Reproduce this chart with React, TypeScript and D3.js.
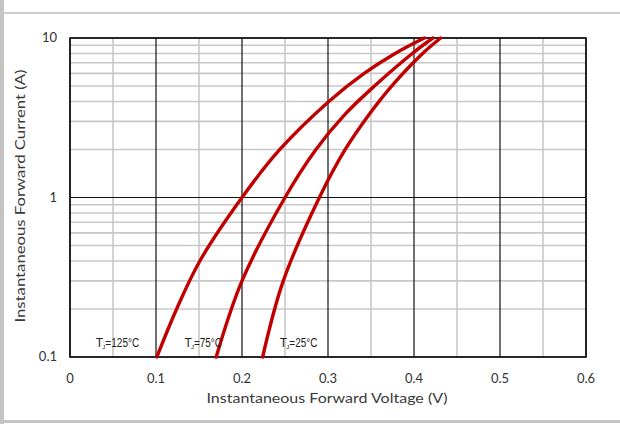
import React from "react";
import * as d3 from "d3";

// forward current (A) and the voltage (V)
const current125 = [0.1, 0.2, 0.4, 1, 2, 4, 6, 8, 10];
const voltage125 = [0.101, 0.124, 0.151, 0.2, 0.244, 0.301, 0.342, 0.378, 0.412];
const current75 = [0.1, 0.3, 1, 2, 3.33, 5, 8, 10];
const voltage75 = [0.17, 0.2, 0.25, 0.286, 0.32, 0.354, 0.398, 0.422];
const current25 = [0.1, 0.3, 1, 2, 3.33, 5, 8, 10];
const voltage25 = [0.224, 0.248, 0.29, 0.32, 0.348, 0.374, 0.41, 0.431];

const xTicks = [0, 0.1, 0.2, 0.3, 0.4, 0.5, 0.6];
const xMinor = [0.05, 0.15, 0.25, 0.35, 0.45, 0.55];
const yTicks = [0.1, 1, 10];
const yTickLabels = ["0.1", "1", "10"];
const yMinor = [2, 3, 4, 5, 6, 7, 8, 9].flatMap((m) => [m * 0.1, m]);

const curveLabels = [
  { temp: "125", v: 0.03 },
  { temp: "75", v: 0.133 },
  { temp: "25", v: 0.244 },
];

const W = 620;
const H = 424;
const font = "Lato, 'DejaVu Sans', sans-serif";
const narrow = "'Liberation Sans Narrow', 'Liberation Sans', Arial, sans-serif";

const App: React.FC = () => {
  const x = d3.scaleLinear().domain([0, 0.6]).range([70, 586]);
  const y = d3.scaleLog().domain([0.1, 10]).range([357, 38]);

  const line = d3
    .line<[number, number]>()
    .x((d) => x(d[0]))
    .y((d) => y(d[1]))
    .curve(d3.curveCatmullRom.alpha(0.5));

  const series = [
    voltage125.map((v, i) => [v, current125[i]] as [number, number]),
    voltage75.map((v, i) => [v, current75[i]] as [number, number]),
    voltage25.map((v, i) => [v, current25[i]] as [number, number]),
  ];

  return (
    <svg
      width={W}
      height={H}
      style={{ position: "absolute", left: 0, top: 0, background: "#fff" }}
    >
      {/* page frame */}
      <rect x={0} y={0} width={4} height={H} fill="#c4c4c4" />
      <rect x={4} y={12} width={W - 4} height={2} fill="#cfcfcf" />
      <rect x={0} y={420} width={W} height={3} fill="#c4c4c4" />

      {/* minor grid */}
      <g stroke="#c8c8c8" strokeWidth={1.6}>
        {xMinor.map((t) => (
          <line key={"xm" + t} x1={x(t)} x2={x(t)} y1={y(10)} y2={y(0.1)} />
        ))}
        {yMinor.map((t) => (
          <line key={"ym" + t} x1={x(0)} x2={x(0.6)} y1={y(t)} y2={y(t)} />
        ))}
      </g>

      {/* major grid */}
      <g stroke="#111" strokeWidth={1.2}>
        {xTicks.map((t) => (
          <line key={"xg" + t} x1={x(t)} x2={x(t)} y1={y(10)} y2={y(0.1)} />
        ))}
        {yTicks.map((t) => (
          <line key={"yg" + t} x1={x(0)} x2={x(0.6)} y1={y(t)} y2={y(t)} />
        ))}
      </g>
      <rect
        x={x(0)}
        y={y(10)}
        width={x(0.6) - x(0)}
        height={y(0.1) - y(10)}
        fill="none"
        stroke="#111"
        strokeWidth={1.6}
      />

      {/* curves */}
      <g fill="none" stroke="#c00000" strokeWidth={3.4} strokeLinecap="round">
        {series.map((s, i) => (
          <path key={i} d={line(s) ?? ""} />
        ))}
      </g>

      {/* curve labels: T, subscript J, then the temperature */}
      {curveLabels.map((l) => {
        const x0 = x(l.v);
        return (
          <g key={l.temp} fontFamily={narrow} fill="#222">
            <text x={x0} y={347} fontSize={12}>
              T
            </text>
            <text x={x0 + 6.5} y={349} fontSize={6}>
              J
            </text>
            <text
              x={x0 + 9.5}
              y={347}
              fontSize={12}
              textLength={l.temp.length === 3 ? 34 : 28}
              lengthAdjust="spacingAndGlyphs"
            >
              ={l.temp}°C
            </text>
          </g>
        );
      })}

      {/* tick labels */}
      <g fontFamily={font} fontSize={13} fill="#333">
        {xTicks.map((t) => (
          <text key={"xl" + t} x={x(t)} y={383} textAnchor="middle">
            {t === 0 ? "0" : t.toFixed(1)}
          </text>
        ))}
        {yTicks.map((t, i) => (
          <text key={"yl" + t} x={57} y={y(t) + 4} textAnchor="end">
            {yTickLabels[i]}
          </text>
        ))}
      </g>

      {/* axis titles */}
      <text
        x={327}
        y={403}
        textAnchor="middle"
        fontFamily={font}
        fontSize={13}
        fill="#3a3a3a"
        textLength={241}
        lengthAdjust="spacingAndGlyphs"
      >
        Instantaneous Forward Voltage (V)
      </text>
      <text
        transform={`translate(25,196) rotate(-90)`}
        textAnchor="middle"
        fontFamily={font}
        fontSize={13}
        fill="#3a3a3a"
        textLength={253}
        lengthAdjust="spacingAndGlyphs"
      >
        Instantaneous Forward Current (A)
      </text>
    </svg>
  );
};

export default App;
